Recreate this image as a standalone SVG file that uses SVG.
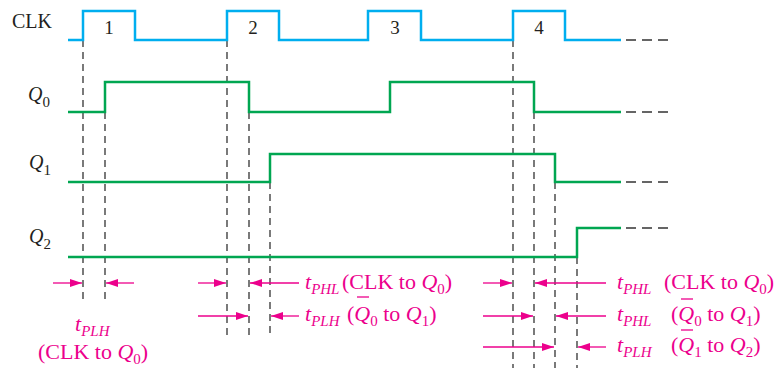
<svg xmlns="http://www.w3.org/2000/svg" width="775" height="370" viewBox="0 0 775 370">
<defs>
<marker id="ah" markerUnits="userSpaceOnUse" markerWidth="13" markerHeight="9" refX="12" refY="4" orient="auto">
<path d="M0,0 L12,4 L0,8 z" fill="#EC008C"/>
</marker>
<style>
text{font-family:"Liberation Serif","Times New Roman",serif;}
.blk{fill:#231F20;font-size:20px;}
.num{fill:#231F20;font-size:19px;text-anchor:middle;}
.mg{fill:#EC008C;font-size:22px;}
.it{font-style:italic;}
.sub{font-size:15px;}
.clk{fill:none;stroke:#00AEEF;stroke-width:2.5;}
.q{fill:none;stroke:#00A651;stroke-width:2.5;}
.cont{fill:none;stroke:#333;stroke-width:1.6;stroke-dasharray:10 6;}
.vd{fill:none;stroke:#333;stroke-width:1.3;stroke-dasharray:7 5;}
.ar{fill:none;stroke:#EC008C;stroke-width:1.3;marker-end:url(#ah);}
.bar{stroke:#EC008C;stroke-width:1.3;}
</style>
</defs>

<g id="labels">
<text class="blk" x="12" y="28">CLK</text>
<text class="blk" x="28" y="101"><tspan class="it">Q</tspan><tspan font-size="15" dy="6">0</tspan></text>
<text class="blk" x="29" y="169"><tspan class="it">Q</tspan><tspan font-size="15" dy="6">1</tspan></text>
<text class="blk" x="29" y="243"><tspan class="it">Q</tspan><tspan font-size="15" dy="6">2</tspan></text>
<text class="num" x="109" y="34">1</text>
<text class="num" x="253" y="34">2</text>
<text class="num" x="395" y="34">3</text>
<text class="num" x="539" y="34">4</text>
</g>

<g id="vlines">
<path class="vd" d="M83,40 V303 M105,112 V303 M227,40 V338 M249,112 V338 M270,182 V338 M513,40 V368 M534,112 V368 M555,182 V368 M577,257 V368"/>
</g>

<g id="clk">
<path class="clk" d="M68,40 H83 V11 H135 V40 H227 V11 H279 V40 H368 V11 H421 V40 H513 V11 H565 V40 H621"/>
<path class="cont" d="M626,40 H668"/>
</g>
<g id="q0">
<path class="q" d="M68,112 H105 V82 H249 V112 H390 V82 H534 V112 H621"/>
<path class="cont" d="M626,112 H668"/>
</g>
<g id="q1">
<path class="q" d="M68,182 H270 V154 H555 V182 H621"/>
<path class="cont" d="M626,182 H668"/>
</g>
<g id="q2">
<path class="q" d="M68,257 H577 V228 H621"/>
<path class="cont" d="M626,228 H668"/>
</g>

<g id="connectors">
<path class="ar" d="M53,283 H82"/>
<path class="ar" d="M134,283 H106"/>
<path class="ar" d="M198,283 H226"/>
<path class="ar" d="M299,283 H250"/>
<path class="ar" d="M198,316 H248"/>
<path class="ar" d="M299,316 H271"/>
<path class="ar" d="M483,283 H512"/>
<path class="ar" d="M606,283 H535"/>
<path class="ar" d="M483,316 H533"/>
<path class="ar" d="M606,316 H556"/>
<path class="ar" d="M483,347 H554"/>
<path class="ar" d="M606,347 H578"/>
</g>

<g id="annot-left">
<text class="mg" x="75" y="331"><tspan class="it">t</tspan><tspan class="sub it" dy="5">PLH</tspan></text>
<text class="mg" x="38" y="359">(CLK to <tspan class="it">Q</tspan><tspan class="sub" dy="5">0</tspan><tspan dy="-5">)</tspan></text>
</g>

<g id="annot-mid">
<text class="mg" x="305" y="289"><tspan class="it">t</tspan><tspan class="sub it" dy="5">PHL</tspan></text>
<text class="mg" x="342" y="289">(CLK to <tspan class="it">Q</tspan><tspan class="sub" dy="5">0</tspan><tspan dy="-5">)</tspan></text>
<text class="mg" x="305" y="321"><tspan class="it">t</tspan><tspan class="sub it" dy="5">PLH</tspan></text>
<text class="mg" x="347" y="321">(<tspan class="it">Q</tspan><tspan class="sub" dy="5">0</tspan><tspan dy="-5"> to </tspan><tspan class="it">Q</tspan><tspan class="sub" dy="5">1</tspan><tspan dy="-5">)</tspan></text>
<line class="bar" x1="357" y1="297" x2="369" y2="297"/>
</g>

<g id="annot-right">
<text class="mg" x="617" y="289"><tspan class="it">t</tspan><tspan class="sub it" dy="5">PHL</tspan></text>
<text class="mg" x="664" y="289">(CLK to <tspan class="it">Q</tspan><tspan class="sub" dy="5">0</tspan><tspan dy="-5">)</tspan></text>
<text class="mg" x="617" y="321"><tspan class="it">t</tspan><tspan class="sub it" dy="5">PHL</tspan></text>
<text class="mg" x="671" y="321">(<tspan class="it">Q</tspan><tspan class="sub" dy="5">0</tspan><tspan dy="-5"> to </tspan><tspan class="it">Q</tspan><tspan class="sub" dy="5">1</tspan><tspan dy="-5">)</tspan></text>
<line class="bar" x1="681" y1="299" x2="693" y2="299"/>
<text class="mg" x="617" y="352"><tspan class="it">t</tspan><tspan class="sub it" dy="5">PLH</tspan></text>
<text class="mg" x="671" y="352">(<tspan class="it">Q</tspan><tspan class="sub" dy="5">1</tspan><tspan dy="-5"> to </tspan><tspan class="it">Q</tspan><tspan class="sub" dy="5">2</tspan><tspan dy="-5">)</tspan></text>
<line class="bar" x1="681" y1="330" x2="693" y2="330"/>
</g>
</svg>
